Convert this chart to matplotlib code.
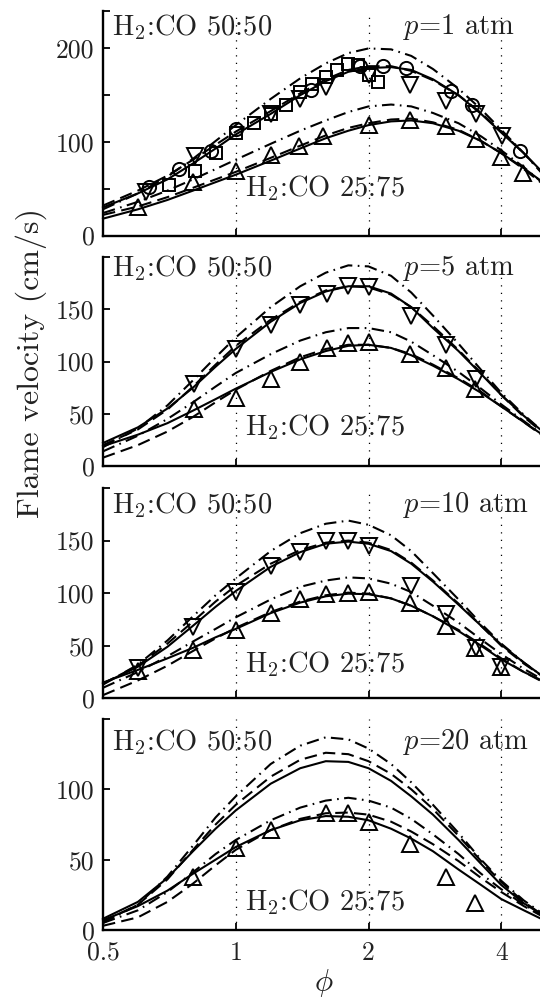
import matplotlib
matplotlib.use("Agg")
import matplotlib.pyplot as plt

plt.rcParams['font.family'] = ['cmr10', 'DejaVu Serif']
plt.rcParams['mathtext.fontset'] = 'cm'
plt.rcParams['axes.unicode_minus'] = False
plt.rcParams['axes.formatter.use_mathtext'] = True

# ---------------- data ----------------
phi_model = [0.5, 0.6, 0.7, 0.8, 0.9, 1.0, 1.2, 1.4, 1.6, 1.8, 2.0, 2.25, 2.5, 2.8, 3.2, 3.6, 4.0, 4.5, 5.0]

# p = 1 atm
p1_5050_solid = [30, 45, 60, 77, 93, 108, 130, 150, 165, 175, 179, 180, 177, 167, 150, 130, 110, 88, 66]
p1_5050_dash = [32, 48, 64, 81, 97, 111, 133, 152, 167, 177, 181, 181, 176, 166, 150, 131, 111, 88, 65]
p1_5050_dashdot = [28, 45, 63, 82, 101, 118, 146, 168, 184, 195, 200, 199, 192, 178, 157, 135, 113, 88, 64]
p1_2575_solid = [18, 28, 38, 48, 57, 65, 80, 93, 104, 112, 118, 122, 123, 120, 112, 101, 88, 72, 56]
p1_2575_dash = [22, 31, 41, 51, 60, 68, 83, 96, 107, 115, 120, 124, 125, 121, 113, 101, 88, 71, 54]
p1_2575_dashdot = [24, 36, 48, 60, 71, 81, 98, 112, 123, 132, 138, 140, 138, 131, 120, 106, 91, 73, 55]

p1_circ_phi = [0.636, 0.744, 0.877, 1.0, 1.48, 1.91, 2.16, 2.43, 3.07, 3.44, 4.41]
p1_circ_v = [52, 71, 90, 114, 156, 181, 181, 179, 155, 139, 90]
p1_sq_phi = [0.705, 0.81, 0.90, 1.0, 1.10, 1.2, 1.3, 1.4, 1.49, 1.6, 1.7, 1.8, 1.89, 2.0, 2.1]
p1_sq_v = [54, 69, 88, 110, 120, 130, 140, 153, 162, 169, 177, 183, 182, 172, 164]
p1_tdn_phi = [0.625, 0.81, 1.2, 1.4, 1.6, 2.0, 2.48, 2.99, 3.51, 4.02]
p1_tdn_v = [46, 85, 130, 146, 159, 172, 161, 144, 130, 106]
p1_tup_phi = [0.60, 0.80, 1.0, 1.2, 1.39, 1.58, 2.0, 2.48, 2.99, 3.5, 4.0, 4.48]
p1_tup_v = [31, 57, 69, 86, 96, 106, 118, 124, 117, 103, 84, 67]

# p = 5 atm
p5_5050_solid = [22, 37, 55, 75, 95, 112, 138, 156, 167, 172, 172, 165, 152, 132, 110, 88, 68, 48, 32]
p5_5050_dash = [20, 35, 54, 76, 97, 115, 140, 157, 168, 172, 171, 164, 152, 134, 111, 89, 68, 47, 31]
p5_5050_dashdot = [18, 36, 58, 82, 104, 123, 152, 172, 185, 192, 191, 182, 166, 144, 117, 92, 70, 49, 32]
p5_2575_solid = [19, 30, 41, 53, 64, 74, 90, 102, 110, 115, 116, 113, 106, 96, 83, 70, 57, 42, 29]
p5_2575_dash = [8, 20, 33, 47, 61, 73, 91, 104, 112, 116, 116, 113, 107, 97, 84, 71, 57, 42, 28]
p5_2575_dashdot = [14, 29, 45, 61, 76, 89, 107, 120, 128, 132, 132, 128, 119, 106, 90, 74, 59, 43, 29]

p5_tdn_phi = [0.806, 1.0, 1.2, 1.4, 1.61, 1.8, 2.0, 2.5, 2.99, 3.5]
p5_tdn_v = [78, 112, 135, 154, 165, 172, 171, 144, 116, 83]
p5_tup_phi = [0.806, 1.0, 1.2, 1.4, 1.61, 1.8, 2.0, 2.48, 2.99, 3.48]
p5_tup_v = [55, 65, 83, 100, 113, 118, 119, 107, 94, 74]

# p = 10 atm
p10_5050_solid = [14, 30, 49, 69, 87, 102, 125, 139, 147, 149, 147, 140, 128, 111, 89, 69, 51, 34, 20]
p10_5050_dash = [14, 31, 52, 73, 92, 107, 128, 141, 148, 150, 148, 141, 129, 112, 90, 69, 50, 33, 20]
p10_5050_dashdot = [13, 32, 55, 78, 98, 114, 140, 157, 166, 169, 165, 155, 140, 119, 94, 71, 52, 34, 20]
p10_2575_solid = [15, 27, 38, 48, 58, 66, 81, 91, 97, 99.5, 99, 95, 88, 78, 64, 50, 37, 25, 16]
p10_2575_dash = [3, 17, 31, 45, 57, 67, 82, 92, 98, 100.5, 99.5, 95, 88, 78, 65, 51, 38, 25, 15]
p10_2575_dashdot = [10, 25, 40, 54, 66, 77, 94, 106, 112, 115, 114, 109, 101, 88, 72, 56, 42, 28, 17]

p10_tdn_phi = [0.60, 0.80, 1.0, 1.2, 1.4, 1.6, 1.8, 2.0, 2.5, 2.99, 3.5, 4.0]
p10_tdn_v = [29, 68, 101, 126, 139, 150, 150, 145, 107, 80, 48, 30]
p10_tup_phi = [0.60, 0.80, 1.0, 1.2, 1.4, 1.6, 1.8, 2.0, 2.48, 2.99, 3.48, 4.0]
p10_tup_v = [26, 46, 65, 81, 94, 99, 100, 101, 91, 69, 48, 30]

# p = 20 atm
p20_5050_solid = [8, 20, 37, 56, 72, 85, 104, 115, 120, 119.5, 115, 106, 95, 82, 64, 47, 32, 19, 10]
p20_5050_dash = [6, 18, 36, 57, 75, 89, 109, 121, 126, 125, 120, 111, 100, 86, 67, 49, 34, 20, 10]
p20_5050_dashdot = [5, 18, 38, 60, 80, 95, 118, 131, 137, 135.5, 129, 118, 105, 89, 69, 50, 35, 21, 11]
p20_2575_solid = [7, 17, 28, 40, 50, 59, 71, 78, 81, 80.5, 78, 72, 65, 56, 43, 32, 22, 14, 7]
p20_2575_dash = [3, 9, 20, 33, 46, 57, 71, 79, 83, 83.5, 82, 77, 70, 61, 49, 37, 27, 17, 9]
p20_2575_dashdot = [5, 14, 27, 41, 54, 64, 78, 87, 92, 94, 92, 87, 79, 68, 54, 40, 29, 18, 10]

p20_tup_phi = [0.80, 1.0, 1.2, 1.6, 1.8, 2.0, 2.49, 2.99, 3.48]
p20_tup_v = [38, 58, 71, 83, 83, 77, 61, 38, 19]

pressure_labels = ['$p$=1 atm', '$p$=5 atm', '$p$=10 atm', '$p$=20 atm']
mix_hi_label = 'H$_2$:CO 50:50'
mix_lo_label = 'H$_2$:CO 25:75'
x_ticks = [0.5, 1, 2, 4]
x_tick_labels = ['0.5', '1', '2', '4']

# ---------------- layout ----------------
W, H = 540, 1001
fig = plt.figure(figsize=(W / 100, H / 100), dpi=100)

left_px, right_px = 103, 544
panels = [  # (top px, bottom px, ymax, yticks, tick labels)
    (11, 235.5, 240, [0, 50, 100, 150, 200, 240], ['0', '', '100', '', '200', '']),
    (257, 466, 200, [0, 50, 100, 150, 200], ['0', '50', '100', '150', '']),
    (488, 698.3, 200, [0, 50, 100, 150, 200], ['0', '50', '100', '150', '']),
    (719, 930, 150, [0, 50, 100, 150], ['0', '50', '100', '']),
]
text_y = [(0.930, 0.210), (0.946, 0.188), (0.919, 0.162), (0.892, 0.134)]

curves = [
    (p1_5050_solid, p1_5050_dash, p1_5050_dashdot, p1_2575_solid, p1_2575_dash, p1_2575_dashdot),
    (p5_5050_solid, p5_5050_dash, p5_5050_dashdot, p5_2575_solid, p5_2575_dash, p5_2575_dashdot),
    (p10_5050_solid, p10_5050_dash, p10_5050_dashdot, p10_2575_solid, p10_2575_dash, p10_2575_dashdot),
    (p20_5050_solid, p20_5050_dash, p20_5050_dashdot, p20_2575_solid, p20_2575_dash, p20_2575_dashdot),
]
markers = [
    [(p1_circ_phi, p1_circ_v, 'o'), (p1_sq_phi, p1_sq_v, 's'),
     (p1_tdn_phi, p1_tdn_v, 'v'), (p1_tup_phi, p1_tup_v, '^')],
    [(p5_tdn_phi, p5_tdn_v, 'v'), (p5_tup_phi, p5_tup_v, '^')],
    [(p10_tdn_phi, p10_tdn_v, 'v'), (p10_tup_phi, p10_tup_v, '^')],
    [(p20_tup_phi, p20_tup_v, '^')],
]

styles = ['-', (0, (6, 3)), (0, (6, 2.6, 0.8, 2.6))] * 2
lw = 1.5
tick_fs = 18.5
ann_fs = 20.5
txt_col = '#222222'

for i, (top, bot, ymax, yt, ytl) in enumerate(panels):
    ax = fig.add_axes([left_px / W, 1 - bot / H, (right_px - left_px) / W, (bot - top) / H])
    ax.set_xscale('log')
    ax.set_xlim(0.5, 5.0)
    ax.set_ylim(0, ymax)
    for xv in [1, 2, 4]:
        ax.axvline(xv, color='black', lw=0.9, linestyle=(0, (1, 5)), zorder=0.5)
    for yv, st in zip(curves[i], styles):
        ax.plot(phi_model, yv, color='black', lw=lw, linestyle=st, clip_on=False, zorder=2,
                solid_joinstyle='round')
    for xs, ys, m in markers[i]:
        ms = 9.5 if m == 'o' else (8.5 if m == 's' else 11.5)
        ax.plot(xs, ys, linestyle='none', marker=m, ms=ms, mfc='none', mec='black',
                mew=1.4, zorder=3)
    for s in ['top', 'right']:
        ax.spines[s].set_visible(False)
    for s in ['left', 'bottom']:
        ax.spines[s].set_linewidth(1.7)
    ax.set_yticks(yt)
    ax.set_yticklabels(ytl)
    ax.set_xticks(x_ticks)
    ax.xaxis.set_minor_locator(matplotlib.ticker.NullLocator())
    if i == 3:
        ax.set_xticklabels(x_tick_labels)
    else:
        ax.set_xticklabels([])
    ax.tick_params(direction='in', length=5, width=1.3, labelsize=tick_fs, pad=6)
    ax.tick_params(axis='x', pad=8)
    ax.text(0.02, text_y[i][0], mix_hi_label, transform=ax.transAxes, fontsize=ann_fs,
            ha='left', va='center', color=txt_col)
    ax.text(0.68, text_y[i][0], pressure_labels[i], transform=ax.transAxes, fontsize=ann_fs,
            ha='left', va='center', color=txt_col)
    ax.text(0.321, text_y[i][1], mix_lo_label, transform=ax.transAxes, fontsize=ann_fs,
            ha='left', va='center', color=txt_col)
    for lab in ax.get_yticklabels() + ax.get_xticklabels():
        lab.set_color(txt_col)

fig.text(31 / W, 1 - 363 / H, 'Flame velocity (cm/s)', rotation=90, ha='center', va='center',
         fontsize=23, color=txt_col)
fig.text(323.7 / W, 1 - 983 / H, r'$\phi$', ha='center', va='center', fontsize=22, color=txt_col)

fig.savefig('out.png', dpi=100)
